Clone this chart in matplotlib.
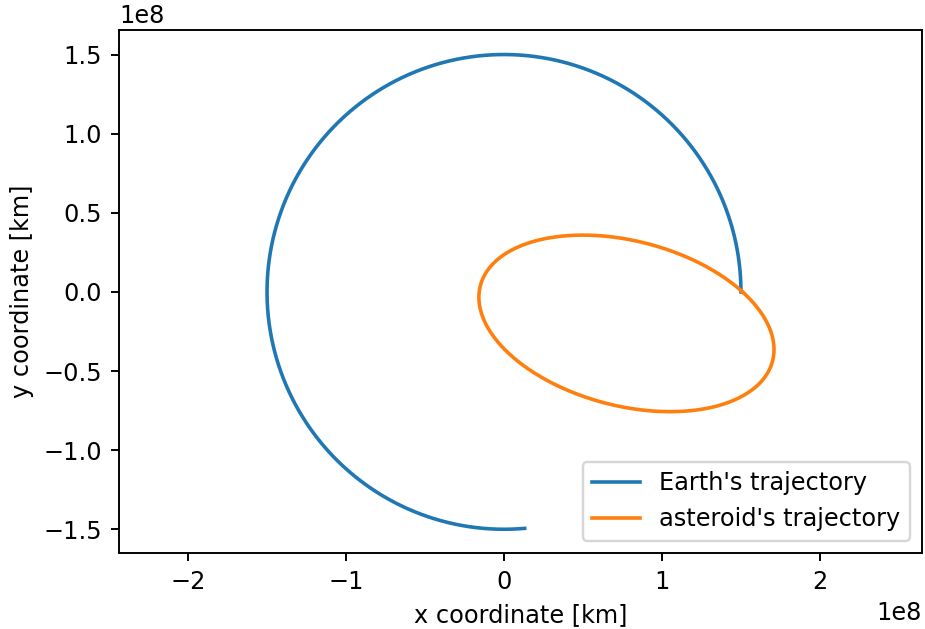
import numpy as np
import matplotlib
matplotlib.use("Agg")
import matplotlib.pyplot as plt

# Earth: circular orbit, traced over part of a revolution
earth_radius_km = 1.5e8
earth_start_deg = 0.0
earth_end_deg = 275.0

# Asteroid: Keplerian ellipse with the Sun at a focus
asteroid_a_km = 0.955e8
asteroid_e = 0.838
asteroid_perihelion_deg = 165.6

labels = ["Earth's trajectory", "asteroid's trajectory"]

theta = np.radians(np.linspace(earth_start_deg, earth_end_deg, 800))
earth_x = earth_radius_km * np.cos(theta)
earth_y = earth_radius_km * np.sin(theta)

phi = np.radians(np.linspace(0, 360, 1200))
w = np.radians(asteroid_perihelion_deg)
r = asteroid_a_km * (1 - asteroid_e**2) / (1 + asteroid_e * np.cos(phi - w))
ast_x = r * np.cos(phi)
ast_y = r * np.sin(phi)

DPI = 172.5
fig = plt.figure(figsize=(925 / DPI, 629 / DPI), dpi=DPI)
ax = fig.add_axes([119 / 925, 76 / 629, 803 / 925, 523 / 629])
ax.plot(earth_x, earth_y, label=labels[0])
ax.plot(ast_x, ast_y, label=labels[1])
ax.set_xlim(-2.437e8, 2.646e8)
ax.set_ylim(-1.65e8, 1.655e8)
ax.set_xlabel("x coordinate [km]")
ax.set_ylabel("y coordinate [km]")
ax.legend(loc="lower right")
fig.savefig("out.png", dpi=DPI)
